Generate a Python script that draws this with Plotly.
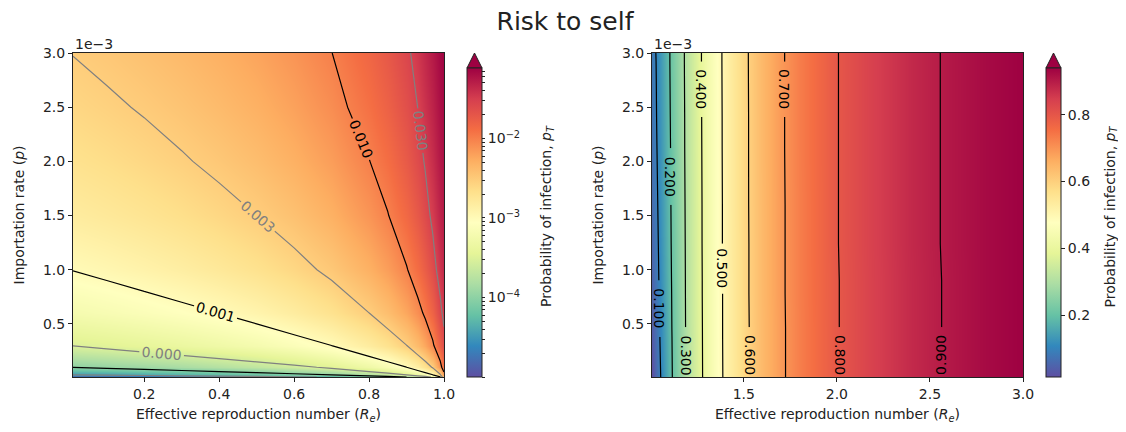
import numpy as np
import plotly.graph_objects as go

# ---------------- data ----------------
TITLE = "Risk to self"
X_TITLE = "Effective reproduction number (<i>R<sub>e</sub></i>)"
Y_TITLE = "Importation rate (<i>p</i>)"
CB_TITLE = "Probability of infection, <i>p<sub>T</sub></i>"

# Left panel: Re < 1, probability of infection (log colour scale)
re_left = [0.01, 0.1, 0.2, 0.3, 0.4, 0.5, 0.6, 0.7, 0.8, 0.85, 0.9, 0.93, 0.95, 0.97, 0.99, 1.0]
p_left = [1e-5, 3e-5, 1e-4, 3e-4, 6e-4, 1e-3, 1.5e-3, 2e-3, 2.5e-3, 3e-3]
pt_left = [
    [1.01e-5, 1.11e-5, 1.25e-5, 1.43e-5, 1.67e-5, 2.0e-5, 2.5e-5, 3.33e-5, 5.0e-5, 6.67e-5, 1.0e-4, 1.43e-4, 2.0e-4, 3.32e-4, 9.55e-4, 4.46e-3],
    [3.03e-5, 3.33e-5, 3.75e-5, 4.29e-5, 5.0e-5, 6.0e-5, 7.5e-5, 1.0e-4, 1.5e-4, 2.0e-4, 3.0e-4, 4.27e-4, 5.97e-4, 9.85e-4, 2.66e-3, 7.7e-3],
    [1.01e-4, 1.11e-4, 1.25e-4, 1.43e-4, 1.67e-4, 2.0e-4, 2.5e-4, 3.33e-4, 5.0e-4, 6.66e-4, 9.96e-4, 1.42e-3, 1.97e-3, 3.18e-3, 7.35e-3, 1.41e-2],
    [3.03e-4, 3.33e-4, 3.75e-4, 4.29e-4, 5.0e-4, 6.0e-4, 7.5e-4, 9.98e-4, 1.50e-3, 1.99e-3, 2.96e-3, 4.18e-3, 5.71e-3, 8.79e-3, 1.66e-2, 2.43e-2],
    [6.06e-4, 6.67e-4, 7.5e-4, 8.57e-4, 1.0e-3, 1.2e-3, 1.5e-3, 2.0e-3, 2.99e-3, 3.96e-3, 5.86e-3, 8.16e-3, 1.09e-2, 1.60e-2, 2.62e-2, 3.42e-2],
    [1.01e-3, 1.11e-3, 1.25e-3, 1.43e-3, 1.67e-3, 2.0e-3, 2.5e-3, 3.32e-3, 4.96e-3, 6.56e-3, 9.62e-3, 1.32e-2, 1.73e-2, 2.42e-2, 3.61e-2, 4.41e-2],
    [1.52e-3, 1.67e-3, 1.87e-3, 2.14e-3, 2.5e-3, 3.0e-3, 3.74e-3, 4.98e-3, 7.41e-3, 9.77e-3, 1.42e-2, 1.92e-2, 2.46e-2, 3.30e-2, 4.61e-2, 5.38e-2],
    [2.02e-3, 2.22e-3, 2.5e-3, 2.86e-3, 3.33e-3, 4.0e-3, 4.99e-3, 6.63e-3, 9.85e-3, 1.29e-2, 1.86e-2, 2.48e-2, 3.12e-2, 4.07e-2, 5.45e-2, 6.19e-2],
    [2.53e-3, 2.78e-3, 3.12e-3, 3.57e-3, 4.17e-3, 4.99e-3, 6.23e-3, 8.28e-3, 1.23e-2, 1.61e-2, 2.29e-2, 3.01e-2, 3.74e-2, 4.77e-2, 6.20e-2, 6.90e-2],
    [3.03e-3, 3.33e-3, 3.75e-3, 4.29e-3, 5.0e-3, 5.99e-3, 7.47e-3, 9.92e-3, 1.47e-2, 1.91e-2, 2.70e-2, 3.52e-2, 4.32e-2, 5.41e-2, 6.87e-2, 7.55e-2],
]
left_range_x = [0.01, 1.0]
left_cmin, left_cmax = 1e-5, 0.077

# Right panel: Re > 1, probability of infection (linear colour scale)
re_right = [1.007, 1.03, 1.05, 1.1, 1.15, 1.2, 1.3, 1.4, 1.5, 1.6, 1.7, 1.8, 2.0, 2.2, 2.4, 2.6, 2.8, 3.0]
p_right = [1e-5, 0.38e-3, 0.47e-3, 0.78e-3, 0.90e-3, 1.24e-3, 1.60e-3, 2.12e-3, 2.41e-3, 2.92e-3, 3.0e-3]
pt_right = [
    [0.015, 0.057, 0.094, 0.176, 0.250, 0.314, 0.423, 0.511, 0.583, 0.641, 0.690, 0.731, 0.797, 0.843, 0.878, 0.905, 0.926, 0.940],
    [0.035, 0.067, 0.101, 0.179, 0.252, 0.315, 0.424, 0.512, 0.583, 0.641, 0.690, 0.731, 0.797, 0.843, 0.878, 0.905, 0.926, 0.940],
    [0.038, 0.069, 0.103, 0.180, 0.253, 0.316, 0.424, 0.512, 0.583, 0.641, 0.690, 0.731, 0.797, 0.843, 0.878, 0.905, 0.926, 0.940],
    [0.046, 0.075, 0.108, 0.182, 0.254, 0.317, 0.425, 0.512, 0.584, 0.642, 0.691, 0.732, 0.797, 0.843, 0.878, 0.905, 0.926, 0.940],
    [0.049, 0.078, 0.110, 0.183, 0.255, 0.317, 0.425, 0.512, 0.584, 0.642, 0.691, 0.732, 0.797, 0.843, 0.878, 0.905, 0.926, 0.940],
    [0.056, 0.083, 0.114, 0.186, 0.256, 0.318, 0.426, 0.513, 0.584, 0.642, 0.691, 0.732, 0.798, 0.844, 0.879, 0.906, 0.926, 0.940],
    [0.063, 0.088, 0.118, 0.188, 0.258, 0.319, 0.426, 0.513, 0.585, 0.642, 0.691, 0.732, 0.798, 0.844, 0.879, 0.906, 0.926, 0.940],
    [0.071, 0.095, 0.122, 0.191, 0.260, 0.321, 0.427, 0.514, 0.585, 0.643, 0.692, 0.733, 0.798, 0.844, 0.879, 0.906, 0.926, 0.940],
    [0.075, 0.098, 0.124, 0.193, 0.261, 0.321, 0.428, 0.514, 0.585, 0.643, 0.692, 0.733, 0.798, 0.844, 0.879, 0.906, 0.926, 0.940],
    [0.081, 0.101, 0.127, 0.196, 0.263, 0.323, 0.429, 0.515, 0.586, 0.643, 0.692, 0.733, 0.798, 0.844, 0.879, 0.906, 0.926, 0.940],
    [0.082, 0.102, 0.128, 0.196, 0.263, 0.323, 0.429, 0.515, 0.586, 0.643, 0.692, 0.733, 0.798, 0.844, 0.879, 0.906, 0.926, 0.940],
]
right_range_x = [1.007, 3.0]
right_cmin, right_cmax = 0.015, 0.94

levels_left_black = [1e-4, 1e-3, 1e-2]
levels_left_gray = [3e-5, 3e-4, 3e-3, 3e-2]
levels_right = [0.1, 0.2, 0.3, 0.4, 0.5, 0.6, 0.7, 0.8, 0.9]
level_right_text = ["0.100", "0.200", "0.300", "0.400", "0.500", "0.600", "0.700", "0.800", "0.900"]

y_range = [1e-5, 3e-3]
y_tick_vals = [0.5e-3, 1.0e-3, 1.5e-3, 2.0e-3, 2.5e-3, 3.0e-3]
y_tick_text = ["0.5", "1.0", "1.5", "2.0", "2.5", "3.0"]
x_left_ticks = [0.2, 0.4, 0.6, 0.8, 1.0]
x_left_text = ["0.2", "0.4", "0.6", "0.8", "1.0"]
x_right_ticks = [1.5, 2.0, 2.5, 3.0]
x_right_text = ["1.5", "2.0", "2.5", "3.0"]
cb_left_major = [1e-4, 1e-3, 1e-2]
cb_left_major_text = ["10<sup>\u22124</sup>", "10<sup>\u22123</sup>", "10<sup>\u22122</sup>"]
cb_right_ticks = [0.2, 0.4, 0.6, 0.8]
cb_right_text = ["0.2", "0.4", "0.6", "0.8"]

# ---------------- styling / layout ----------------
OFF = 8                     # page body margin of the browser
W, H = 1126 - 2 * OFF, 432 - 2 * OFF
FONT = "DejaVu Sans"
TXT = "#222"
spectral_r = ["#5e4fa2", "#3288bd", "#66c2a5", "#abdda4", "#e6f598", "#ffffbf",
              "#fee08b", "#fdae61", "#f46d43", "#d53e4f", "#9e0142"]
cscale = [[i / 10, c] for i, c in enumerate(spectral_r)]

# inline label placement for the right panel: (gap start row, gap end row, label y, angle)
right_label_style = {
    0.1: (1, 4, 0.64e-3, 90),
    0.2: (6, 7, 1.86e-3, 90),
    0.3: (0, 2, 0.21e-3, 90),
    0.4: (8, 9, 2.67e-3, 90),
    0.5: (3, 5, 1.01e-3, 90),
    0.6: (0, 2, 0.21e-3, 90),
    0.7: (8, 9, 2.67e-3, 90),
    0.8: (0, 2, 0.21e-3, 90),
    0.9: (0, 2, 0.21e-3, -90),
}


def px(x):
    return (x - OFF) / W


def py(y):
    return 1 - (y - OFF) / H


L_X = (73, 444)
R_X = (652, 1023)
P_Y = (53, 377)
CB_TOP, CB_BOT, CB_TIP = 68, 377, 53
CBL_X, CBR_X, CB_W = 467, 1046, 15
CB_TITLE_X = (546.5, 1110.0)
CB_TITLE_Y = 216.5

# minor ticks on the log colorbar
cb_left_vals, cb_left_text = [], []
for n in range(-5, 0):
    for k in range(1, 10):
        v = k * 10.0 ** n
        if left_cmin <= v <= left_cmax:
            cb_left_vals.append(np.log10(v))
            if v in cb_left_major:
                cb_left_text.append(cb_left_major_text[cb_left_major.index(v)])
            else:
                cb_left_text.append("")

fig = go.Figure()

z_left_log = np.log10(np.array(pt_left))
fig.add_trace(go.Heatmap(
    x=re_left, y=p_left, z=z_left_log, zsmooth="best",
    colorscale=cscale, zmin=np.log10(left_cmin), zmax=np.log10(left_cmax),
    xaxis="x", yaxis="y", hoverinfo="skip",
    colorbar=dict(
        x=px(CBL_X), xanchor="left", xpad=0, ypad=0,
        y=py(CB_BOT), yanchor="bottom", len=CB_BOT - CB_TOP, lenmode="pixels",
        thickness=CB_W, thicknessmode="pixels",
        outlinewidth=1, outlinecolor=TXT,
        tickmode="array", tickvals=cb_left_vals, ticktext=cb_left_text,
        ticks="outside", ticklen=3, tickwidth=1, tickcolor=TXT,
        tickfont=dict(size=14, family=FONT, color=TXT),
    ),
))

for lv in levels_left_gray + levels_left_black:
    col = "#808080" if lv in levels_left_gray else "#000000"
    fig.add_trace(go.Contour(
        x=re_left, y=p_left, z=pt_left, xaxis="x", yaxis="y",
        autocontour=False,
        contours=dict(start=lv, end=lv, size=1, coloring="none", showlabels=True,
                      labelformat=".3f", labelfont=dict(size=14, family=FONT, color=col)),
        line=dict(color=col, width=1.2, smoothing=0), showscale=False, hoverinfo="skip",
    ))

fig.add_trace(go.Heatmap(
    x=re_right, y=p_right, z=pt_right, zsmooth="best",
    colorscale=cscale, zmin=right_cmin, zmax=right_cmax,
    xaxis="x2", yaxis="y2", hoverinfo="skip",
    colorbar=dict(
        x=px(CBR_X), xanchor="left", xpad=0, ypad=0,
        y=py(CB_BOT), yanchor="bottom", len=CB_BOT - CB_TOP, lenmode="pixels",
        thickness=CB_W, thicknessmode="pixels",
        outlinewidth=1, outlinecolor=TXT,
        tickmode="array", tickvals=cb_right_ticks, ticktext=cb_right_text,
        ticks="outside", ticklen=4, tickwidth=1, tickcolor=TXT,
        tickfont=dict(size=14, family=FONT, color=TXT),
    ),
))

# right panel contour lines, broken where the inline labels sit
n_rows = len(p_right)
for lv, txt in zip(levels_right, level_right_text):
    g0, g1, ylab, ang = right_label_style[lv]
    for r0, r1 in ((0, g0), (g1, n_rows - 1)):
        if r1 > r0:
            fig.add_trace(go.Contour(
                x=re_right, y=p_right[r0:r1 + 1], z=pt_right[r0:r1 + 1],
                xaxis="x2", yaxis="y2", autocontour=False,
                contours=dict(start=lv, end=lv, size=1, coloring="none", showlabels=False),
                line=dict(color="#000", width=1.2, smoothing=0), showscale=False,
                hoverinfo="skip",
            ))
    # label x: where the level is reached on the rows bounding the gap
    xa = np.interp(lv, pt_right[g0], re_right)
    xb = np.interp(lv, pt_right[g1], re_right)
    fig.add_annotation(x=(xa + xb) / 2, y=ylab, xref="x2", yref="y2", showarrow=False,
                       textangle=ang, xanchor="center", yanchor="middle",
                       text=txt, font=dict(size=14, family=FONT, color="#000"))

axis_common = dict(showline=True, mirror=True, linecolor=TXT, linewidth=1,
                   ticks="outside", ticklen=4, tickwidth=1, tickcolor=TXT,
                   showgrid=False, zeroline=False, automargin=False,
                   tickfont=dict(size=14, family=FONT, color=TXT))

fig.update_layout(
    width=W, height=H,
    margin=dict(l=0, r=0, t=0, b=0),
    paper_bgcolor="white", plot_bgcolor="white",
    font=dict(family=FONT, color=TXT),
    showlegend=False,
    title=dict(text=TITLE, x=px(565), xanchor="center", y=py(21), yanchor="middle",
               font=dict(size=25, family=FONT, color=TXT)),
    xaxis=dict(domain=[px(L_X[0]), px(L_X[1])], range=left_range_x, anchor="y",
               tickmode="array", tickvals=x_left_ticks, ticktext=x_left_text,
               title=dict(text=X_TITLE, font=dict(size=14, family=FONT), standoff=13),
               **axis_common),
    yaxis=dict(domain=[py(P_Y[1]), py(P_Y[0])], range=y_range, anchor="x",
               tickmode="array", tickvals=y_tick_vals, ticktext=y_tick_text,
               title=dict(text=Y_TITLE, font=dict(size=14, family=FONT), standoff=15),
               **axis_common),
    xaxis2=dict(domain=[px(R_X[0]), px(R_X[1])], range=right_range_x, anchor="y2",
                tickmode="array", tickvals=x_right_ticks, ticktext=x_right_text,
                title=dict(text=X_TITLE, font=dict(size=14, family=FONT), standoff=13),
                **axis_common),
    yaxis2=dict(domain=[py(P_Y[1]), py(P_Y[0])], range=y_range, anchor="x2",
                tickmode="array", tickvals=y_tick_vals, ticktext=y_tick_text,
                title=dict(text=Y_TITLE, font=dict(size=14, family=FONT), standoff=15),
                **axis_common),
)

# offset text "1e-3" above each panel
for xl in (L_X[0], R_X[0]):
    fig.add_annotation(x=px(xl), y=py(P_Y[0] + 1), xref="paper", yref="paper",
                       xanchor="left", yanchor="bottom", showarrow=False,
                       text="1e\u22123", font=dict(size=14, family=FONT, color=TXT))

# colorbar titles
for cx in CB_TITLE_X:
    fig.add_annotation(x=px(cx), y=py(CB_TITLE_Y), xref="paper", yref="paper",
                       xanchor="center", yanchor="middle", showarrow=False, textangle=-90,
                       text=CB_TITLE, font=dict(size=14, family=FONT, color=TXT))

# colorbar "extend" arrows
for cx in (CBL_X, CBR_X):
    path = "M {x0},{y0} L {x1},{y0} L {xm},{yt} Z".format(
        x0=px(cx), x1=px(cx + CB_W), xm=px(cx + CB_W / 2), y0=py(CB_TOP), yt=py(CB_TIP))
    fig.add_shape(type="path", path=path, xref="paper", yref="paper",
                  fillcolor="#9e0142", line=dict(color=TXT, width=1))

fig.write_html("out.html")
